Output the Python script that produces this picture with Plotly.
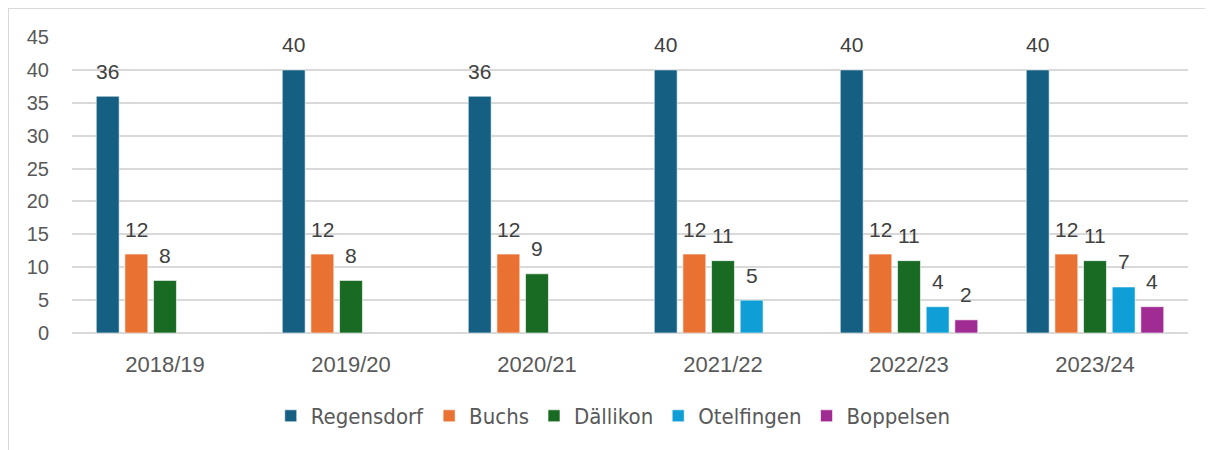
import plotly.graph_objects as go

categories = ["2018/19", "2019/20", "2020/21", "2021/22", "2022/23", "2023/24"]
regensdorf = [36, 40, 36, 40, 40, 40]
buchs = [12, 12, 12, 12, 12, 12]
daellikon = [8, 8, 9, 11, 11, 11]
otelfingen = [None, None, None, 5, 4, 7]
boppelsen = [None, None, None, None, 2, 4]

series = [
    ("Regensdorf", regensdorf, "#156082"),
    ("Buchs", buchs, "#E97132"),
    ("Dällikon", daellikon, "#196B24"),
    ("Otelfingen", otelfingen, "#0F9ED5"),
    ("Boppelsen", boppelsen, "#A02B93"),
]

BARGAP = 0.23
n = len(series)
slot = (1 - BARGAP) / n

fig = go.Figure()
annotations = []
for i, (name, vals, color) in enumerate(series):
    fig.add_trace(go.Bar(
        name=name, x=categories, y=vals,
        marker=dict(color=color, line=dict(color="rgba(255,255,255,0.6)", width=1)),
    ))
    for j, v in enumerate(vals):
        if v is None:
            continue
        annotations.append(dict(
            x=j + (i - (n - 1) / 2) * slot, y=v, xref="x", yref="y",
            text=str(v), showarrow=False, yanchor="middle", yshift=25,
            font=dict(family="Liberation Sans, Arial, sans-serif", size=21, color="#404040"),
        ))

W, H = 1213, 450
L, R, T, B = 64, 33, 29, 125
pw, ph = W - L - R, H - T - B

fig.update_layout(
    width=W, height=H,
    margin=dict(l=L, r=R, t=T, b=B),
    barmode="group", bargap=BARGAP, bargroupgap=0.2,
    plot_bgcolor="white", paper_bgcolor="white",
    font=dict(family="Liberation Sans, Arial, sans-serif", color="#595959"),
    showlegend=True,
    legend=dict(orientation="h", x=0.485, xanchor="center", y=(325 - 408) / ph, yanchor="middle",
                font=dict(family="DejaVu Sans Condensed, Liberation Sans Narrow, Roboto, sans-serif",
                          size=22, color="#595959"),
                traceorder="normal"),
    xaxis=dict(showgrid=False, ticks="", tickfont=dict(size=22, color="#595959"),
               ticklabelstandoff=16, showline=False),
    yaxis=dict(range=[0, 45], dtick=5, showgrid=True, gridcolor="#d9d9d9", gridwidth=1.5,
               zeroline=True, zerolinecolor="#d9d9d9", zerolinewidth=1.5,
               tickfont=dict(size=20, color="#595959"), ticklabelstandoff=22, showline=False),
    annotations=annotations,
    shapes=[dict(type="rect", xref="paper", yref="paper",
                 x0=-L / pw, x1=(W - L) / pw,
                 y0=(325 - H) / ph, y1=325 / ph,
                 line=dict(color="#d9d9d9", width=2), fillcolor="rgba(0,0,0,0)", layer="below")],
)

fig.write_html("out.html")
